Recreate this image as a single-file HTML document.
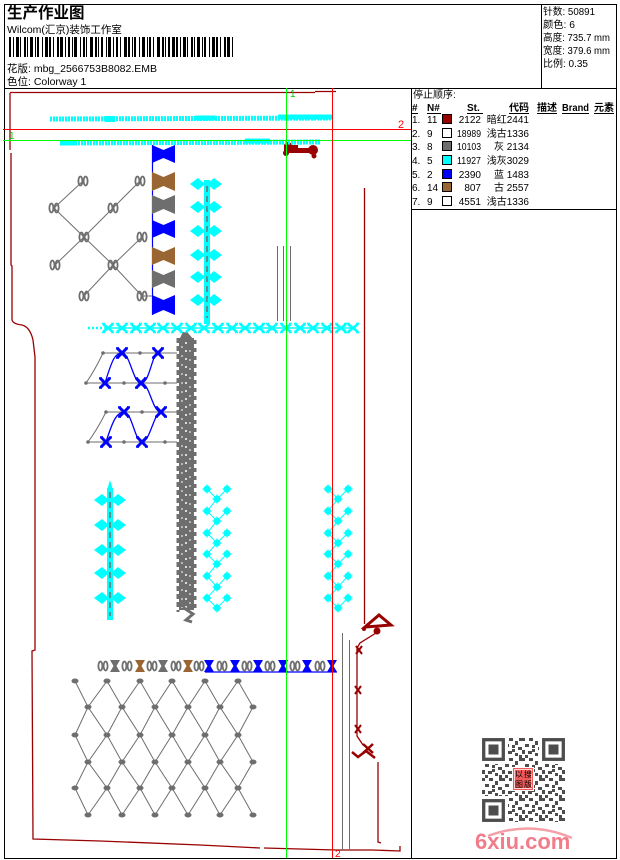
<!DOCTYPE html>
<html><head><meta charset="utf-8"><title>生产作业图</title>
<style>
html,body{margin:0;padding:0;background:#fff;width:620px;height:860px;overflow:hidden}
svg{display:block}
text{font-family:"Liberation Sans","Noto Sans CJK SC",sans-serif;fill:#000}
</style></head><body>
<svg xmlns="http://www.w3.org/2000/svg" xmlns:xlink="http://www.w3.org/1999/xlink" width="620" height="860" viewBox="0 0 620 860">
<defs>
 <g id="cx"><path d="M-5,-4L5,4M-5,4L5,-4" stroke="#00ffff" stroke-width="2.6" fill="none"/><path d="M-6,-4.5h3M3,-4.5h3M-6,4.5h3M3,4.5h3" stroke="#00ffff" stroke-width="1.5"/></g>
 <g id="bx"><path d="M-5,-5L5,5M-5,5L5,-5" stroke="#0000ff" stroke-width="3" fill="none"/><path d="M-6,-5h3M3,-5h3M-6,5h3M3,5h3" stroke="#0000ff" stroke-width="1.6"/></g>
 <polygon id="hg" points="-5,-6 5,-6 1.5,0 5,6 -5,6 -1.5,0"/>
 <g id="bp" fill="none" stroke="#6e6e6e" stroke-width="1.8"><ellipse cx="-2.6" cy="0" rx="2" ry="4.5"/><ellipse cx="2.6" cy="0" rx="2" ry="4.5"/></g>
 <g id="leaf" fill="#00ffff"><polygon points="-16,0 -8,-6 -1,0 -8,6"/><polygon points="1,0 8,-6 16,0 8,6"/></g>
 <g id="st"><circle r="3.5" fill="#00ffff"/><path d="M-4.5,0h9M0,-4.5v9" stroke="#00ffff" stroke-width="1.2"/></g>
 <ellipse id="gn" rx="3.5" ry="2.5" fill="#6e6e6e"/>
 <g id="drx"><path d="M-3,-4L3,4M-3,4L3,-4" stroke="#990000" stroke-width="2" fill="none"/></g>
 <pattern id="qr" x="482" y="738" width="20" height="20" patternUnits="userSpaceOnUse">
  <g fill="#4d4d4d"><rect x="0" y="0" width="3" height="3"/><rect x="7" y="0" width="4" height="3"/><rect x="13" y="3" width="3" height="4"/><rect x="3" y="6" width="4" height="3"/><rect x="10" y="7" width="3" height="3"/><rect x="16" y="9" width="4" height="3"/><rect x="0" y="12" width="3" height="4"/><rect x="6" y="13" width="4" height="3"/><rect x="13" y="15" width="3" height="3"/><rect x="17" y="17" width="3" height="3"/><rect x="3" y="17" width="3" height="3"/><rect x="10" y="11" width="3" height="3"/><rect x="17" y="0" width="3" height="3"/></g>
 </pattern>
</defs>

<!-- frame -->
<g fill="none" stroke="#000" stroke-width="1" shape-rendering="crispEdges">
 <rect x="4.5" y="4.5" width="612" height="854"/>
 <line x1="4" y1="88.5" x2="617" y2="88.5"/>
 <line x1="541.5" y1="4" x2="541.5" y2="88"/>
 <line x1="411.5" y1="88" x2="411.5" y2="859"/>
 <line x1="411" y1="209.5" x2="617" y2="209.5"/>
</g>

<!-- header left -->
<text x="7" y="18" font-size="15.5" font-weight="bold">生产作业图</text>
<text x="7" y="33" font-size="10.5">Wilcom(汇京)装饰工作室</text>
<line x1="9" y1="47" x2="233" y2="47" stroke="#000" stroke-width="20" stroke-dasharray="2 2 1 2 3 1 1 3 2 1 1 2 3 2 1 1 2 3 1 2 3 1 2 2 1 3 2 1 3 2 1 2 2 2 1 1 3 3 1 2 2 1 1 3 3 2 2 1 1 2 2 3 1 1 3 2 1 2 2 2 1 3 3 1 2 2 1 1 2 3 1 2 3 2 1 1 2 2 1 3 3 2 2 1 1 2 2 2 3 1"/>
<text x="7" y="72" font-size="10.5">花版: mbg_2566753B8082.EMB</text>
<text x="7" y="85" font-size="10.5">色位: Colorway 1</text>

<!-- header right -->
<g font-size="10">
<text x="543" y="15" textLength="52" lengthAdjust="spacingAndGlyphs">针数: 50891</text>
<text x="543" y="28" textLength="32" lengthAdjust="spacingAndGlyphs">颜色: 6</text>
<text x="543" y="41" textLength="67" lengthAdjust="spacingAndGlyphs">高度: 735.7 mm</text>
<text x="543" y="54" textLength="67" lengthAdjust="spacingAndGlyphs">宽度: 379.6 mm</text>
<text x="543" y="67" textLength="45" lengthAdjust="spacingAndGlyphs">比例: 0.35</text>
</g>

<!-- legend -->
<text x="413" y="98" font-size="10">停止顺序:</text>
<g font-size="10" font-weight="bold">
<text x="412" y="111">#</text>
<text x="427" y="111">N#</text>
<text x="467" y="111">St.</text>
<text x="509" y="111">代码</text>
<text x="537" y="111">描述</text>
<text x="562" y="111" textLength="27" lengthAdjust="spacingAndGlyphs">Brand</text>
<text x="594" y="111">元素</text>
</g>
<g stroke="#000" stroke-width="1" shape-rendering="crispEdges">
<line x1="412" y1="113.5" x2="418" y2="113.5"/>
<line x1="427" y1="113.5" x2="441" y2="113.5"/>
<line x1="467" y1="113.5" x2="483" y2="113.5"/>
<line x1="509" y1="113.5" x2="529" y2="113.5"/>
<line x1="537" y1="113.5" x2="557" y2="113.5"/>
<line x1="562" y1="113.5" x2="589" y2="113.5"/>
<line x1="594" y1="113.5" x2="614" y2="113.5"/>
</g>
<g font-size="10">
<text x="412" y="123">1.</text><text x="427" y="123">11</text><text x="481" y="123" text-anchor="end">2122</text><text x="529" y="123" text-anchor="end">暗红2441</text>
<text x="412" y="137">2.</text><text x="427" y="137">9</text><text x="481" y="137" text-anchor="end" textLength="24" lengthAdjust="spacingAndGlyphs">18989</text><text x="529" y="137" text-anchor="end">浅古1336</text>
<text x="412" y="150">3.</text><text x="427" y="150">8</text><text x="481" y="150" text-anchor="end" textLength="24" lengthAdjust="spacingAndGlyphs">10103</text><text x="529" y="150" text-anchor="end">灰 2134</text>
<text x="412" y="164">4.</text><text x="427" y="164">5</text><text x="481" y="164" text-anchor="end" textLength="24" lengthAdjust="spacingAndGlyphs">11927</text><text x="529" y="164" text-anchor="end">浅灰3029</text>
<text x="412" y="178">5.</text><text x="427" y="178">2</text><text x="481" y="178" text-anchor="end">2390</text><text x="529" y="178" text-anchor="end">蓝 1483</text>
<text x="412" y="191">6.</text><text x="427" y="191">14</text><text x="481" y="191" text-anchor="end">807</text><text x="529" y="191" text-anchor="end">古 2557</text>
<text x="412" y="205">7.</text><text x="427" y="205">9</text><text x="481" y="205" text-anchor="end">4551</text><text x="529" y="205" text-anchor="end">浅古1336</text>
</g>
<g stroke="#000" stroke-width="1" shape-rendering="crispEdges">
<rect x="442.5" y="114.5" width="9" height="9" fill="#990000"/>
<rect x="442.5" y="128.5" width="9" height="9" fill="#fff"/>
<rect x="442.5" y="141.5" width="9" height="9" fill="#6e6e6e"/>
<rect x="442.5" y="155.5" width="9" height="9" fill="#00ffff"/>
<rect x="442.5" y="169.5" width="9" height="9" fill="#0000ff"/>
<rect x="442.5" y="182.5" width="9" height="9" fill="#996633"/>
<rect x="442.5" y="196.5" width="9" height="9" fill="#fff"/>
</g>

<!-- dark red outline -->
<g fill="none" stroke="#990000" stroke-width="1.3">
<path d="M10,92.5 H315 M315,91.5 H336"/>
<path d="M10,93 L10,150 M11,153 L11,265 L12,266 L12,320 Q13,324 22,325 Q30,327 33,340 L35,357 L35,650 L32,651 L33,839 L100,841 L200,845 L260,848 M264,848 L336,850 L372,850 L400,851 L400,846"/>
<path d="M364.5,188 V624"/>
<path d="M376,633 L360,643 L357,648 L357,736 L363,745"/>
<path d="M378,762 L378,842 L381,843"/>
</g>
<polygon points="379,615 391,625 365,627" fill="none" stroke="#990000" stroke-width="3"/>
<circle cx="377" cy="631" r="3.5" fill="#990000"/>
<circle cx="364" cy="629" r="2" fill="#990000"/>
<use xlink:href="#drx" x="359" y="650"/>
<use xlink:href="#drx" x="358" y="690"/>
<use xlink:href="#drx" x="358" y="729"/>
<path d="M352,752 L358,757 L366,751 L375,758" fill="none" stroke="#990000" stroke-width="2.5"/>
<path d="M363,744 L373,753 M363,753 L373,744" fill="none" stroke="#990000" stroke-width="2.5"/>
<g fill="#990000"><rect x="284" y="145" width="14" height="8"/><circle cx="288" cy="146" r="4"/><circle cx="286" cy="153" r="3"/><rect x="297" y="148" width="12" height="5"/><circle cx="313" cy="150" r="5"/><circle cx="314" cy="156" r="2.5"/></g>

<!-- gray vertical lines -->
<g stroke="#6e6e6e" stroke-width="1">
<line x1="277.5" y1="246" x2="277.5" y2="321"/>
<line x1="283.5" y1="246" x2="283.5" y2="321"/>
<line x1="290.5" y1="246" x2="290.5" y2="321"/>
<line x1="342.5" y1="633" x2="342.5" y2="850"/>
<line x1="349.5" y1="640" x2="349.5" y2="850"/>
</g>

<!-- cyan top rows -->
<line x1="50" y1="119" x2="333" y2="118" stroke="#00ffff" stroke-width="5" stroke-dasharray="2 1"/>
<line x1="105" y1="119" x2="115" y2="119" stroke="#00ffff" stroke-width="6"/>
<line x1="195" y1="118" x2="215" y2="118" stroke="#00ffff" stroke-width="5"/>
<line x1="278" y1="117" x2="333" y2="117" stroke="#00ffff" stroke-width="5"/>
<line x1="60" y1="143" x2="320" y2="142" stroke="#00ffff" stroke-width="5" stroke-dasharray="2 1"/>
<line x1="60" y1="143" x2="75" y2="143" stroke="#00ffff" stroke-width="5"/>
<line x1="245" y1="141" x2="270" y2="141" stroke="#00ffff" stroke-width="5"/>

<!-- bowtie column -->
<line x1="152.5" y1="145" x2="152.5" y2="315" stroke="#0000ff" stroke-width="1.2"/>
<polygon points="152,145 163.5,150 175,145 175,163 163.5,158 152,163" fill="#0000ff"/>
<polygon points="152,172 163.5,177 175,172 175,191 163.5,186 152,191" fill="#996633"/>
<polygon points="152,195 163.5,200 175,195 175,214 163.5,209 152,214" fill="#6e6e6e"/>
<polygon points="152,220 163.5,225 175,220 175,238 163.5,233 152,238" fill="#0000ff"/>
<polygon points="152,247 163.5,252 175,247 175,265 163.5,260 152,265" fill="#996633"/>
<polygon points="152,270 163.5,275 175,270 175,288 163.5,283 152,288" fill="#6e6e6e"/>
<polygon points="152,295 163.5,300 175,295 175,315 163.5,310 152,315" fill="#0000ff"/>

<!-- upper gray lattice -->
<g stroke="#6e6e6e" stroke-width="1" fill="none">
<path d="M54,208 L83,181 M54,208 L84,237 L113,208 L140,181 M84,237 L55,265 M84,237 L113,265 L142,237 M113,265 L84,296 M113,265 L142,296 L152,296"/>
</g>
<use xlink:href="#bp" x="83" y="181"/><use xlink:href="#bp" x="140" y="181"/>
<use xlink:href="#bp" x="54" y="208"/><use xlink:href="#bp" x="113" y="208"/>
<use xlink:href="#bp" x="84" y="237"/><use xlink:href="#bp" x="142" y="237"/>
<use xlink:href="#bp" x="55" y="265"/><use xlink:href="#bp" x="113" y="265"/>
<use xlink:href="#bp" x="84" y="296"/><use xlink:href="#bp" x="142" y="296"/>

<!-- cyan flower column 1 -->
<rect x="204" y="180" width="6" height="144" fill="#00ffff"/>
<line x1="207" y1="186" x2="207" y2="318" stroke="#6e6e6e" stroke-width="1.5" stroke-dasharray="6 4"/>
<use xlink:href="#leaf" x="206" y="184"/>
<use xlink:href="#leaf" x="206" y="207"/>
<use xlink:href="#leaf" x="206" y="231"/>
<use xlink:href="#leaf" x="206" y="255"/>
<use xlink:href="#leaf" x="206" y="277"/>
<use xlink:href="#leaf" x="206" y="300"/>

<!-- cyan X row -->
<line x1="88" y1="328" x2="104" y2="328" stroke="#00ffff" stroke-width="2.5" stroke-dasharray="2 2"/>
<line x1="104" y1="328" x2="356" y2="328" stroke="#00ffff" stroke-width="1.5"/>
<use xlink:href="#cx" x="108" y="328"/><use xlink:href="#cx" x="122" y="328"/><use xlink:href="#cx" x="136" y="328"/><use xlink:href="#cx" x="150" y="328"/><use xlink:href="#cx" x="163" y="328"/><use xlink:href="#cx" x="177" y="328"/><use xlink:href="#cx" x="191" y="328"/><use xlink:href="#cx" x="204" y="328"/><use xlink:href="#cx" x="218" y="328"/><use xlink:href="#cx" x="232" y="328"/><use xlink:href="#cx" x="245" y="328"/><use xlink:href="#cx" x="259" y="328"/><use xlink:href="#cx" x="272" y="328"/><use xlink:href="#cx" x="286" y="328"/><use xlink:href="#cx" x="300" y="328"/><use xlink:href="#cx" x="313" y="328"/><use xlink:href="#cx" x="327" y="328"/><use xlink:href="#cx" x="341" y="328"/><use xlink:href="#cx" x="353" y="328"/>

<!-- gray chain column -->
<polygon points="183,332 188,333 194,340 179,340" fill="#6e6e6e"/>
<rect x="179" y="338" width="15" height="272" fill="#6e6e6e"/>
<line x1="178" y1="338" x2="178" y2="612" stroke="#6e6e6e" stroke-width="3" stroke-dasharray="5 3"/>
<line x1="195" y1="340" x2="195" y2="612" stroke="#6e6e6e" stroke-width="3" stroke-dasharray="4 4"/>
<line x1="186" y1="342" x2="186" y2="608" stroke="#fff" stroke-width="1.5" stroke-dasharray="2 6"/>
<line x1="182" y1="346" x2="182" y2="608" stroke="#fff" stroke-width="1" stroke-dasharray="2 7"/>
<line x1="190" y1="350" x2="190" y2="608" stroke="#fff" stroke-width="1" stroke-dasharray="2 7"/>
<path d="M184,608 L193,614 L186,620 L192,622" fill="none" stroke="#6e6e6e" stroke-width="3"/>

<!-- blue lattice -->
<g stroke="#6e6e6e" stroke-width="1" fill="none">
<path d="M103,353 H177 M86,383 H177 M106,412 H177 M88,442 H177 M103,353 Q95,370 86,383 M106,412 Q97,430 88,442"/>
</g>
<g fill="#6e6e6e">
<circle cx="103" cy="353" r="1.8"/><circle cx="140" cy="353" r="1.8"/><circle cx="86" cy="383" r="1.8"/><circle cx="124" cy="383" r="1.8"/><circle cx="165" cy="383" r="1.8"/>
<circle cx="106" cy="412" r="1.8"/><circle cx="142" cy="412" r="1.8"/><circle cx="88" cy="442" r="1.8"/><circle cx="124" cy="442" r="1.8"/><circle cx="165" cy="442" r="1.8"/>
</g>
<g stroke="#0000ff" stroke-width="1.3" fill="none">
<path d="M105,383 C112,360 115,353 122,353 C130,353 133,383 141,383 C150,383 152,353 158,353 M141,383 C150,383 152,412 161,412"/>
<path d="M106,442 C113,420 117,412 124,412 C132,412 135,442 142,442 C150,442 154,412 161,412"/>
</g>
<use xlink:href="#bx" x="122" y="353"/><use xlink:href="#bx" x="158" y="353"/>
<use xlink:href="#bx" x="105" y="383"/><use xlink:href="#bx" x="141" y="383"/>
<use xlink:href="#bx" x="124" y="412"/><use xlink:href="#bx" x="161" y="412"/>
<use xlink:href="#bx" x="106" y="442"/><use xlink:href="#bx" x="142" y="442"/>

<!-- cyan flower column 2 -->
<polygon points="110,480 113,490 110,495 107,490" fill="#00ffff"/>
<rect x="107" y="488" width="6" height="132" fill="#00ffff"/>
<line x1="110" y1="492" x2="110" y2="616" stroke="#6e6e6e" stroke-width="1.5" stroke-dasharray="6 4"/>
<use xlink:href="#leaf" x="110" y="500"/>
<use xlink:href="#leaf" x="110" y="525"/>
<use xlink:href="#leaf" x="110" y="550"/>
<use xlink:href="#leaf" x="110" y="573"/>
<use xlink:href="#leaf" x="110" y="598"/>

<!-- cyan zigzag columns -->
<g stroke="#00ffff" stroke-width="1" fill="none">
<path d="M207,489 L217,499 L227,489 M217,499 L207,511 L217,521 L227,511 M217,521 L207,533 L217,543 L227,533 M217,543 L207,554 L217,564 L227,554 M217,564 L207,576 L217,587 L227,576 M217,587 L207,598 L217,608 L227,598"/>
<path d="M328,489 L338,499 L348,489 M338,499 L328,511 L338,521 L348,511 M338,521 L328,533 L338,543 L348,533 M338,543 L328,554 L338,564 L348,554 M338,564 L328,576 L338,587 L348,576 M338,587 L328,598 L338,608 L348,598"/>
</g>
<g>
<use xlink:href="#st" x="207" y="489"/><use xlink:href="#st" x="227" y="489"/><use xlink:href="#st" x="217" y="499"/>
<use xlink:href="#st" x="207" y="511"/><use xlink:href="#st" x="227" y="511"/><use xlink:href="#st" x="217" y="521"/>
<use xlink:href="#st" x="207" y="533"/><use xlink:href="#st" x="227" y="533"/><use xlink:href="#st" x="217" y="543"/>
<use xlink:href="#st" x="207" y="554"/><use xlink:href="#st" x="227" y="554"/><use xlink:href="#st" x="217" y="564"/>
<use xlink:href="#st" x="207" y="576"/><use xlink:href="#st" x="227" y="576"/><use xlink:href="#st" x="217" y="587"/>
<use xlink:href="#st" x="207" y="598"/><use xlink:href="#st" x="227" y="598"/><use xlink:href="#st" x="217" y="608"/>
<use xlink:href="#st" x="328" y="489"/><use xlink:href="#st" x="348" y="489"/><use xlink:href="#st" x="338" y="499"/>
<use xlink:href="#st" x="328" y="511"/><use xlink:href="#st" x="348" y="511"/><use xlink:href="#st" x="338" y="521"/>
<use xlink:href="#st" x="328" y="533"/><use xlink:href="#st" x="348" y="533"/><use xlink:href="#st" x="338" y="543"/>
<use xlink:href="#st" x="328" y="554"/><use xlink:href="#st" x="348" y="554"/><use xlink:href="#st" x="338" y="564"/>
<use xlink:href="#st" x="328" y="576"/><use xlink:href="#st" x="348" y="576"/><use xlink:href="#st" x="338" y="587"/>
<use xlink:href="#st" x="328" y="598"/><use xlink:href="#st" x="348" y="598"/><use xlink:href="#st" x="338" y="608"/>
</g>

<!-- bead row -->
<line x1="205" y1="672" x2="337" y2="672" stroke="#0000ff" stroke-width="1.2"/>
<use xlink:href="#bp" x="103" y="666"/><use xlink:href="#hg" x="115" y="666" fill="#6e6e6e"/>
<use xlink:href="#bp" x="127" y="666"/><use xlink:href="#hg" x="140" y="666" fill="#996633"/>
<use xlink:href="#bp" x="152" y="666"/><use xlink:href="#hg" x="163" y="666" fill="#6e6e6e"/>
<use xlink:href="#bp" x="176" y="666"/><use xlink:href="#hg" x="188" y="666" fill="#996633"/>
<use xlink:href="#bp" x="199" y="666"/><use xlink:href="#hg" x="209" y="666" fill="#0000ff"/>
<use xlink:href="#bp" x="222" y="666"/><use xlink:href="#hg" x="235" y="666" fill="#0000ff"/>
<use xlink:href="#bp" x="247" y="666"/><use xlink:href="#hg" x="258" y="666" fill="#0000ff"/>
<use xlink:href="#bp" x="270" y="666"/><use xlink:href="#hg" x="283" y="666" fill="#0000ff"/>
<use xlink:href="#bp" x="295" y="666"/><use xlink:href="#hg" x="307" y="666" fill="#0000ff"/>
<use xlink:href="#bp" x="320" y="666"/><use xlink:href="#hg" x="332" y="666" fill="#0000ff"/>

<!-- bottom diamond lattice -->
<g stroke="#6e6e6e" stroke-width="1" fill="none">
<polyline points="75,681 88,707 75,735 88,762 75,788 88,815"/>
<polyline points="107,681 122,707 107,735 122,762 107,788 122,815"/>
<polyline points="140,681 155,707 140,735 155,762 140,788 155,815"/>
<polyline points="172,681 188,707 172,735 188,762 172,788 188,815"/>
<polyline points="205,681 220,707 205,735 220,762 205,788 220,815"/>
<polyline points="238,681 253,707 238,735 253,762 238,788 253,815"/>
<polyline points="107,681 88,707 107,735 88,762 107,788 88,815"/>
<polyline points="140,681 122,707 140,735 122,762 140,788 122,815"/>
<polyline points="172,681 155,707 172,735 155,762 172,788 155,815"/>
<polyline points="205,681 188,707 205,735 188,762 205,788 188,815"/>
<polyline points="238,681 220,707 238,735 220,762 238,788 220,815"/>
</g>
<g>
<use xlink:href="#gn" x="75" y="681"/><use xlink:href="#gn" x="107" y="681"/><use xlink:href="#gn" x="140" y="681"/><use xlink:href="#gn" x="172" y="681"/><use xlink:href="#gn" x="205" y="681"/><use xlink:href="#gn" x="238" y="681"/>
<use xlink:href="#gn" x="88" y="707"/><use xlink:href="#gn" x="122" y="707"/><use xlink:href="#gn" x="155" y="707"/><use xlink:href="#gn" x="188" y="707"/><use xlink:href="#gn" x="220" y="707"/><use xlink:href="#gn" x="253" y="707"/>
<use xlink:href="#gn" x="75" y="735"/><use xlink:href="#gn" x="107" y="735"/><use xlink:href="#gn" x="140" y="735"/><use xlink:href="#gn" x="172" y="735"/><use xlink:href="#gn" x="205" y="735"/><use xlink:href="#gn" x="238" y="735"/>
<use xlink:href="#gn" x="88" y="762"/><use xlink:href="#gn" x="122" y="762"/><use xlink:href="#gn" x="155" y="762"/><use xlink:href="#gn" x="188" y="762"/><use xlink:href="#gn" x="220" y="762"/><use xlink:href="#gn" x="253" y="762"/>
<use xlink:href="#gn" x="75" y="788"/><use xlink:href="#gn" x="107" y="788"/><use xlink:href="#gn" x="140" y="788"/><use xlink:href="#gn" x="172" y="788"/><use xlink:href="#gn" x="205" y="788"/><use xlink:href="#gn" x="238" y="788"/>
<use xlink:href="#gn" x="88" y="815"/><use xlink:href="#gn" x="122" y="815"/><use xlink:href="#gn" x="155" y="815"/><use xlink:href="#gn" x="188" y="815"/><use xlink:href="#gn" x="220" y="815"/><use xlink:href="#gn" x="253" y="815"/>
</g>

<!-- guide lines -->
<g stroke-width="1" shape-rendering="crispEdges">
<line x1="3" y1="129.5" x2="411" y2="129.5" stroke="#ff0000"/>
<line x1="3" y1="140.5" x2="411" y2="140.5" stroke="#00ff00"/>
<line x1="286.5" y1="88" x2="286.5" y2="858" stroke="#00ff00"/>
<line x1="332.5" y1="88" x2="332.5" y2="858" stroke="#ff0000"/>
</g>
<text x="290" y="97" font-size="10" style="fill:#00cc00">1</text>
<text x="9" y="139" font-size="10" style="fill:#00cc00">1</text>
<text x="398" y="128" font-size="11" style="fill:#ff0000">2</text>
<text x="335" y="857" font-size="10" style="fill:#ff0000">2</text>

<!-- QR code -->
<rect x="482" y="738" width="83" height="84" fill="url(#qr)"/>
<g fill="#fff"><rect x="481" y="737" width="27" height="27"/><rect x="539" y="737" width="27" height="27"/><rect x="481" y="796" width="27" height="27"/></g>
<g fill="none" stroke="#4d4d4d" stroke-width="3.3">
<rect x="483.7" y="739.7" width="19.6" height="19.6"/>
<rect x="543.7" y="739.7" width="19.6" height="19.6"/>
<rect x="483.7" y="800.7" width="19.6" height="19.6"/>
</g>
<g fill="#4d4d4d"><rect x="488.5" y="744.5" width="10" height="10"/><rect x="548.5" y="744.5" width="10" height="10"/><rect x="488.5" y="805.5" width="10" height="10"/></g>
<rect x="512" y="767" width="22" height="24" fill="#fff"/>
<rect x="513" y="768" width="20" height="22" fill="#f25a5a"/>
<rect x="514.5" y="769.5" width="17" height="19" fill="none" stroke="#ffd0d0" stroke-width="1"/>
<g font-size="8" style="fill:#ffe8e8">
<text x="515" y="777">以</text><text x="524" y="777">搜</text>
<text x="515" y="787">图</text><text x="524" y="787">版</text>
</g>

<!-- watermark -->
<path d="M488,836 Q530,820 572,838" fill="none" stroke="#f3a0a8" stroke-width="2.5"/>
<text x="475" y="849" font-size="22" font-weight="bold" style="fill:#f27d8a">6xiu.com</text>
</svg>
</body></html>
